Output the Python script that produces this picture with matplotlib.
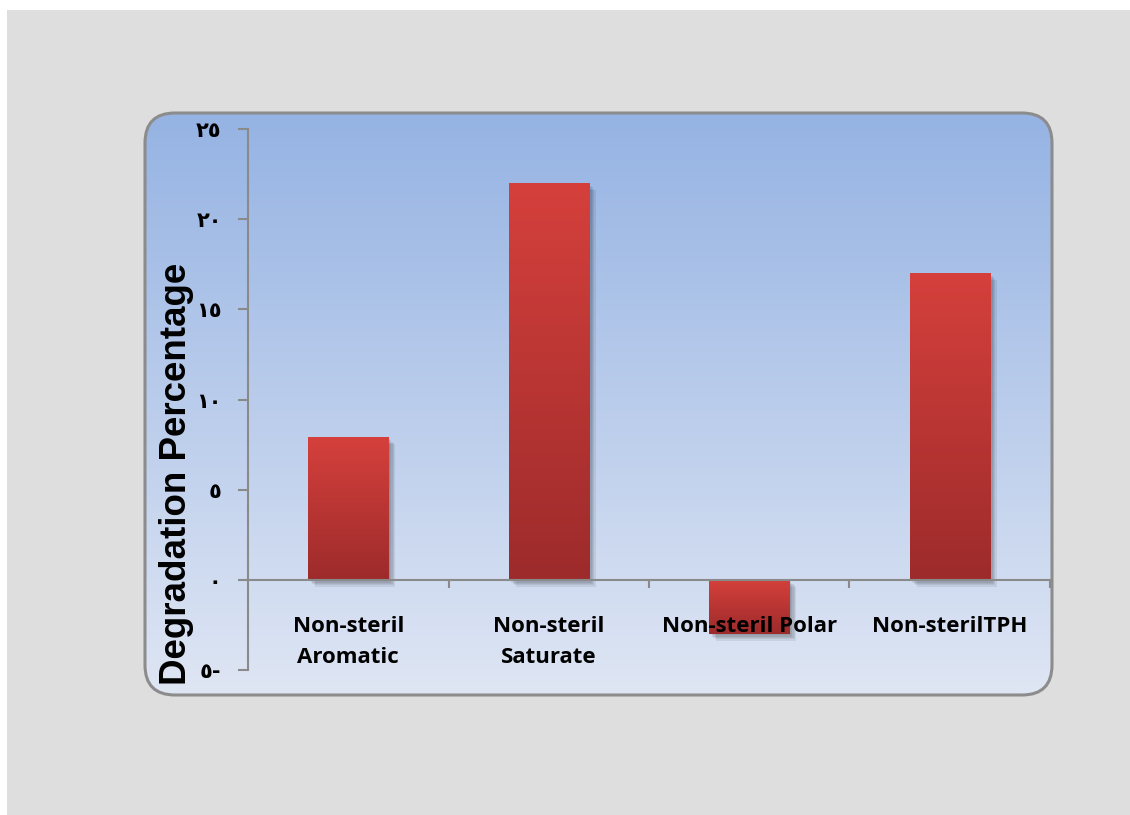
import matplotlib
matplotlib.use("Agg")
import matplotlib.pyplot as plt
import matplotlib.patheffects as pe
import numpy as np
from matplotlib.colors import LinearSegmentedColormap
from matplotlib.patches import FancyBboxPatch, Rectangle

categories = ["Non-steril\nAromatic", "Non-steril\nSaturate", "Non-steril Polar", "Non-sterilTPH"]
values = [7.9, 22.0, -3.0, 17.0]
yticks = [-5, 0, 5, 10, 15, 20, 25]
ytick_labels = ["٥-", "٠", "٥", "١٠", "١٥", "٢٠", "٢٥"]


def background(fig):
    bg = fig.add_axes([0, 0, 1, 1], zorder=0)
    bg.add_patch(Rectangle((7, 10), 1123, 805, color="#dedede", lw=0, zorder=1))
    box = FancyBboxPatch((145, 113), 907, 582, boxstyle="round,pad=0,rounding_size=30",
                         facecolor="none", edgecolor="none")
    bg.add_patch(box)
    cmap = LinearSegmentedColormap.from_list("bg", ["#95b3e3", "#dfe6f4"])
    grad = np.linspace(0, 1, 256).reshape(-1, 1)
    im = bg.imshow(grad, extent=(145, 1052, 695, 113), origin="upper", aspect="auto",
                   cmap=cmap, zorder=2)
    im.set_clip_path(box)
    bg.add_patch(FancyBboxPatch((145, 113), 907, 582, boxstyle="round,pad=0,rounding_size=30",
                                facecolor="none", edgecolor="#8c8c8c", lw=2.2, zorder=3))
    bg.set_xlim(0, 1130)
    bg.set_ylim(815, 0)
    bg.axis("off")


def barChart():
    fig = plt.figure(figsize=(11.3, 8.15), dpi=100)
    fig.patch.set_facecolor("white")
    background(fig)

    ax = fig.add_axes([248 / 1130, 145 / 815, 802 / 1130, 541 / 815], zorder=1)
    ax.set_facecolor("none")
    x = np.arange(len(categories))
    shadow = [pe.SimplePatchShadow(offset=(o, -o), shadow_rgbFace="k", alpha=0.07)
              for o in (1, 2, 3, 4, 5)]
    bars = ax.bar(x, values, width=0.4, color="#c23532", zorder=1,
                  path_effects=shadow + [pe.Normal()])
    cmap = LinearSegmentedColormap.from_list("bar", ["#d5403c", "#9d2b2b"])
    grad = np.linspace(0, 1, 256).reshape(-1, 1)
    for b in bars:
        x0 = b.get_x()
        y0 = min(b.get_y(), b.get_y() + b.get_height())
        y1 = max(b.get_y(), b.get_y() + b.get_height())
        im = ax.imshow(grad, extent=(x0, x0 + b.get_width(), y0, y1), origin="upper",
                       aspect="auto", cmap=cmap, zorder=1.2)
        im.set_clip_path(b)

    ax.set_xlim(-0.5, 3.5)
    ax.set_ylim(-5, 25)
    for s in ["top", "right"]:
        ax.spines[s].set_visible(False)
    ax.spines["bottom"].set_position(("data", 0))
    for s in ["bottom", "left"]:
        ax.spines[s].set_color("#8a8a8a")
        ax.spines[s].set_linewidth(1.5)

    ax.set_yticks(yticks, labels=ytick_labels)
    ax.tick_params(axis="y", direction="out", length=7, width=1.5, color="#8a8a8a", pad=12,
                   labelsize=15)
    for t in ax.get_yticklabels():
        t.set_fontweight("bold")
        t.set_family("DejaVu Sans")

    ax.set_xticks(x, labels=categories)
    ax.set_xticks([0.5, 1.5, 2.5, 3.5], minor=True)
    ax.tick_params(axis="x", which="major", length=0, pad=26, labelsize=16)
    ax.tick_params(axis="x", which="minor", direction="out", length=6, width=1.5, color="#8a8a8a")
    for t in ax.get_xticklabels():
        t.set_fontweight("bold")
        t.set_family("Open Sans")
        t.set_linespacing(1.6)

    fig.text(176 / 1130, 1 - 474 / 815, "Degradation Percentage", rotation=90, ha="center",
             va="center", fontsize=26.5, fontweight="bold", family="Liberation Sans")
    fig.savefig("out.png", dpi=100)


def main():
    barChart()

if __name__ == "__main__":
    main()
